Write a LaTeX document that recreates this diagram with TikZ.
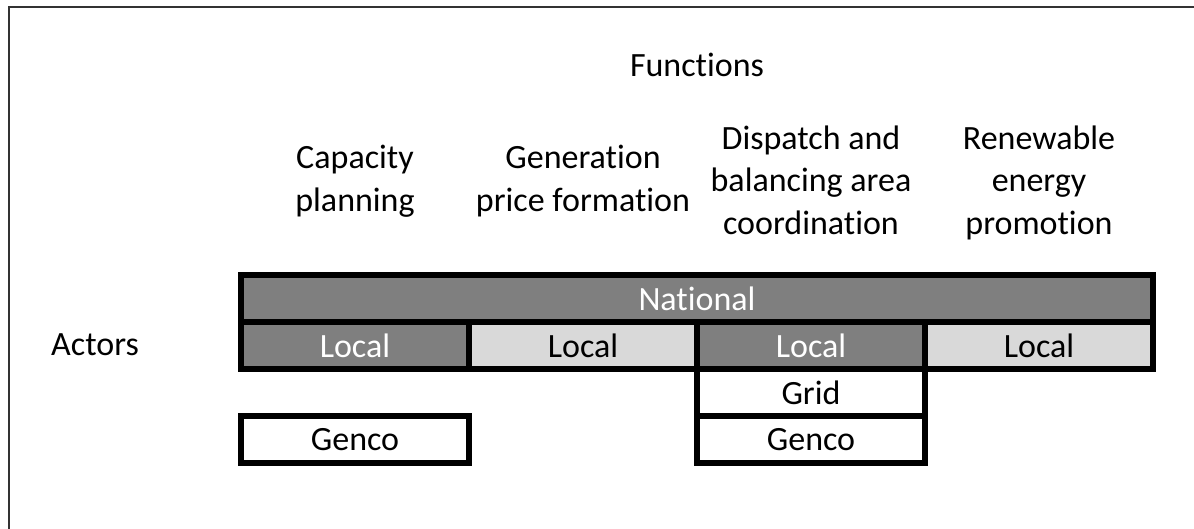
\documentclass[tikz,border=0pt]{standalone}
\usepackage{fontspec}
\setmainfont{Carlito}[Ligatures=NoCommon]
\usetikzlibrary{positioning}
\definecolor{cellDark}{HTML}{7F7F7F}
\definecolor{cellLight}{HTML}{D9D9D9}

\begin{document}
\begin{tikzpicture}[x=0.5pt, y=-0.5pt, font=\fontsize{17}{21.5}\selectfont,
	cell/.style={draw, line width=2.75pt, minimum width=114pt, minimum height=23.5pt, inner sep=0pt, outer sep=0pt, fill=white},
	darkcell/.style={cell, fill=cellDark, text=white},
	lightcell/.style={cell, fill=cellLight},
	heading/.style={align=center, anchor=base}]
	\useasboundingbox (0,0) rectangle (1194,529);
	\draw[line width=1pt, black!80] (1194,7) -- (9,7) -- (9,529);

	% headings, anchored at the baseline of their last line
	\node[anchor=base] (functions) at (697,77) {Functions};
	\node[heading] (capacity)  at (355,212)  {Capacity\\planning};
	\node[heading] (pricing)   at (583,212)  {Generation\\price formation};
	\node[heading] (dispatch)  at (811,235)  {Dispatch and\\balancing area\\coordination};
	\node[heading] (renewable) at (1039,235) {Renewable\\energy\\promotion};
	\node[anchor=base] (actors) at (95,355) {Actors};

	\node[darkcell, minimum width=456pt] (national) at (697,298.5) {National};
	\node[darkcell, anchor=north west] (local1) at (national.south west) {Local};
	\node[lightcell, right=0pt of local1] (local2) {Local};
	\node[darkcell, right=0pt of local2] (local3) {Local};
	\node[lightcell, right=0pt of local3] (local4) {Local};
	\node[cell, below=0pt of local3] (grid) {Grid};
	\node[cell, below=0pt of grid] (genco2) {Genco};
	\node[cell] (genco1) at (local1 |- genco2) {Genco};
\end{tikzpicture}
\end{document}
